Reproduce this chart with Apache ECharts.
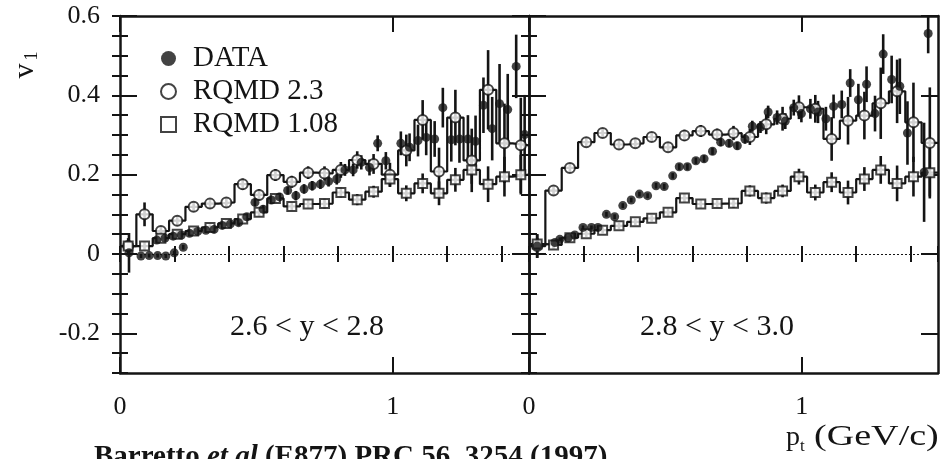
<!DOCTYPE html>
<html>
<head>
<meta charset="utf-8">
<script src="https://cdn.jsdelivr.net/npm/echarts@6/dist/echarts.min.js"></script>
<style>
  html, body { margin: 0; padding: 0; background: #fff; }
  #chart { width: 946px; height: 459px; }
</style>
</head>
<body>
<div id="chart"></div>
<script>
// RQMD histogram bin centres, p_t in GeV/c (bin width 0.06)
var binPt = [0.03, 0.09, 0.15, 0.21, 0.27, 0.33, 0.39, 0.45, 0.51, 0.57, 0.63, 0.69, 0.75,
  0.81, 0.87, 0.93, 0.99, 1.05, 1.11, 1.17, 1.23, 1.29, 1.35, 1.41, 1.47];
var binHalf = 0.03;

// 2.6 < y < 2.8
var leftRqmd23 = [0.02, 0.10, 0.058, 0.084, 0.119, 0.127, 0.130, 0.176, 0.149, 0.199, 0.182, 0.205, 0.203,
  0.212, 0.237, 0.227, 0.200, 0.261, 0.338, 0.208, 0.344, 0.236, 0.414, 0.279, 0.274];
var leftRqmd23Err = [0.02, 0.03, 0.012, 0.012, 0.012, 0.012, 0.012, 0.014, 0.014, 0.015, 0.015, 0.016, 0.018,
  0.02, 0.022, 0.025, 0.03, 0.04, 0.05, 0.06, 0.07, 0.08, 0.1, 0.1, 0.12];
var leftRqmd108 = [0.02, 0.020, 0.040, 0.050, 0.058, 0.067, 0.077, 0.088, 0.105, 0.140, 0.120, 0.126, 0.127,
  0.155, 0.137, 0.157, 0.189, 0.153, 0.178, 0.153, 0.187, 0.212, 0.176, 0.195, 0.200];
var leftRqmd108Err = [0.015, 0.01, 0.008, 0.008, 0.008, 0.008, 0.008, 0.008, 0.01, 0.01, 0.01, 0.01, 0.012,
  0.012, 0.014, 0.015, 0.02, 0.02, 0.025, 0.03, 0.03, 0.035, 0.045, 0.05, 0.05];
var leftDataPt = [0.033, 0.077, 0.107, 0.138, 0.168, 0.199, 0.232,
  0.135, 0.165, 0.195, 0.225, 0.255, 0.285, 0.315, 0.345, 0.375, 0.405,
  0.435, 0.465, 0.495, 0.525, 0.555, 0.585, 0.615, 0.645, 0.675, 0.705,
  0.735, 0.765, 0.795, 0.825, 0.855, 0.885, 0.915, 0.945, 0.975,
  1.03, 1.062, 1.093, 1.123, 1.154, 1.184, 1.215, 1.245, 1.276, 1.304,
  1.333, 1.365, 1.392, 1.422, 1.453, 1.484];
var leftDataV = [0.003, -0.005, -0.004, -0.004, -0.005, 0.003, 0.017,
  0.035, 0.040, 0.045, 0.048, 0.052, 0.057, 0.060, 0.062, 0.072, 0.076,
  0.079, 0.094, 0.130, 0.113, 0.136, 0.144, 0.160, 0.147, 0.164, 0.172,
  0.176, 0.183, 0.189, 0.212, 0.212, 0.231, 0.218, 0.279, 0.235,
  0.279, 0.269, 0.286, 0.294, 0.290, 0.369, 0.288, 0.290, 0.290, 0.284,
  0.375, 0.316, 0.379, 0.364, 0.473, 0.301];
var leftDataErr = [0.05, 0.005, 0.005, 0.005, 0.005, 0.005, 0.006,
  0.006, 0.006, 0.006, 0.006, 0.006, 0.006, 0.006, 0.007, 0.007, 0.007,
  0.008, 0.008, 0.01, 0.01, 0.01, 0.01, 0.01, 0.012, 0.012, 0.012,
  0.012, 0.013, 0.014, 0.015, 0.016, 0.018, 0.02, 0.02, 0.022,
  0.03, 0.035, 0.04, 0.045, 0.045, 0.05, 0.055, 0.06, 0.06, 0.065,
  0.07, 0.08, 0.1, 0.09, 0.08, 0.1];

// 2.8 < y < 3.0
var rightRqmd23 = [0.02, 0.16, 0.217, 0.282, 0.305, 0.276, 0.279, 0.295, 0.269, 0.299, 0.310, 0.301, 0.305,
  0.295, 0.327, 0.341, 0.370, 0.366, 0.290, 0.336, 0.349, 0.380, 0.410, 0.332, 0.280];
var rightRqmd23Err = [0.03, 0.012, 0.012, 0.012, 0.012, 0.012, 0.012, 0.012, 0.012, 0.014, 0.015, 0.015, 0.018,
  0.02, 0.025, 0.03, 0.03, 0.035, 0.055, 0.06, 0.06, 0.09, 0.08, 0.1, 0.14];
var rightRqmd108 = [0.025, 0.023, 0.041, 0.051, 0.060, 0.071, 0.081, 0.090, 0.105, 0.141, 0.126, 0.127, 0.128,
  0.159, 0.141, 0.159, 0.195, 0.155, 0.181, 0.155, 0.189, 0.212, 0.178, 0.195, 0.205];
var rightRqmd108Err = [0.015, 0.01, 0.008, 0.008, 0.008, 0.008, 0.008, 0.008, 0.01, 0.01, 0.01, 0.01, 0.012,
  0.014, 0.014, 0.016, 0.02, 0.02, 0.025, 0.03, 0.03, 0.035, 0.045, 0.05, 0.06];
var rightDataPt = [0.03, 0.095, 0.113, 0.144, 0.168, 0.198, 0.229, 0.253, 0.284, 0.314,
  0.344, 0.375, 0.405, 0.435, 0.466, 0.496, 0.527, 0.551, 0.581, 0.612,
  0.642, 0.673, 0.703, 0.734, 0.764, 0.792, 0.819, 0.849, 0.877, 0.91,
  0.94, 0.971, 0.999, 1.032, 1.06, 1.089, 1.117, 1.147, 1.178, 1.208,
  1.238, 1.269, 1.299, 1.33, 1.36, 1.388, 1.449, 1.464];
var rightDataV = [0.02, 0.029, 0.037, 0.041, 0.048, 0.067, 0.067, 0.067, 0.10, 0.094,
  0.122, 0.136, 0.151, 0.147, 0.172, 0.17, 0.197, 0.22, 0.22, 0.235,
  0.24, 0.259, 0.282, 0.279, 0.273, 0.29, 0.322, 0.32, 0.358, 0.344,
  0.335, 0.369, 0.354, 0.366, 0.358, 0.341, 0.372, 0.377, 0.431, 0.389,
  0.428, 0.354, 0.504, 0.44, 0.423, 0.305, 0.206, 0.556];
var rightDataErr = [0.03, 0.005, 0.005, 0.005, 0.005, 0.005, 0.005, 0.005, 0.006, 0.006,
  0.006, 0.006, 0.006, 0.006, 0.007, 0.007, 0.007, 0.008, 0.008, 0.008,
  0.009, 0.009, 0.01, 0.01, 0.01, 0.012, 0.014, 0.015, 0.016, 0.018,
  0.02, 0.02, 0.022, 0.025, 0.028, 0.03, 0.03, 0.035, 0.035, 0.04,
  0.045, 0.045, 0.05, 0.06, 0.07, 0.08, 0.125, 0.05];

// tick positions
var xMajorTicks = [0, 1];
var yMajorTicks = [-0.2, 0, 0.2, 0.4, 0.6];

var INK = '#141414';
var FONT = 'Liberation Serif';

var chart = echarts.init(document.getElementById('chart'));

// one grid = 4 x axes (bottom/top, long/short ticks) + 4 y axes
function makeXAxes(g) {
  var list = [];
  ['bottom', 'top'].forEach(function (pos) {
    list.push({
      gridIndex: g, type: 'value', position: pos, min: 0, max: 1.5,
      splitLine: {show: false},
      axisLine: {show: true, onZero: false, lineStyle: {color: INK, width: 2.5}},
      axisTick: {show: true, inside: true, length: 16, customValues: xMajorTicks, lineStyle: {color: INK, width: 2}},
      axisLabel: {show: pos === 'bottom', customValues: xMajorTicks, margin: 21,
        fontFamily: FONT, fontSize: 26, color: INK}
    });
    list.push({
      gridIndex: g, type: 'value', position: pos, min: 0, max: 1.5, interval: 0.2,
      splitLine: {show: false}, axisLine: {show: false},
      axisTick: {show: true, inside: true, length: 8, lineStyle: {color: INK, width: 2}},
      axisLabel: {show: false}
    });
  });
  return list;
}

function makeYAxes(g) {
  var list = [];
  ['left', 'right'].forEach(function (pos) {
    list.push({
      gridIndex: g, type: 'value', position: pos, min: -0.3, max: 0.6,
      splitLine: {show: false},
      axisLine: {show: true, onZero: false, lineStyle: {color: INK, width: 2.5}},
      axisTick: {show: true, inside: true, length: 17, customValues: yMajorTicks, lineStyle: {color: INK, width: 2}},
      axisLabel: {show: g === 0 && pos === 'left', customValues: yMajorTicks, margin: 20,
        fontFamily: FONT, fontSize: 26, color: INK}
    });
    list.push({
      gridIndex: g, type: 'value', position: pos, min: -0.3, max: 0.6, interval: 0.05,
      splitLine: {show: false}, axisLine: {show: false},
      axisTick: {show: true, inside: true, length: 8, lineStyle: {color: INK, width: 2}},
      axisLabel: {show: false}
    });
  });
  return list;
}

// histogram outline from bin centres
function stepPoints(vals) {
  var pts = binPt.map(function (c, i) { return [c - binHalf, vals[i]]; });
  pts.push([binPt[binPt.length - 1] + binHalf, vals[vals.length - 1]]);
  return pts;
}

function zip(xs, vs, es) {
  return xs.map(function (x, i) { return es ? [x, vs[i], es[i]] : [x, vs[i]]; });
}

function errorBars(g, xs, vs, es, w) {
  return {
    type: 'custom', xAxisIndex: g * 4, yAxisIndex: g * 4, silent: true, clip: true, z: 3,
    data: zip(xs, vs, es),
    encode: {x: 0, y: 1},
    renderItem: function (params, api) {
      var x = api.value(0), v = api.value(1), e = api.value(2);
      var lo = api.coord([x, v - e]), hi = api.coord([x, v + e]);
      return {
        type: 'line',
        shape: {x1: lo[0], y1: lo[1], x2: hi[0], y2: hi[1]},
        style: {stroke: INK, lineWidth: w}
      };
    }
  };
}

function panelSeries(g, r23, r23e, r108, r108e, dPt, dV, dE) {
  var ax = {xAxisIndex: g * 4, yAxisIndex: g * 4};
  return [
    Object.assign({
      type: 'line', step: 'end', showSymbol: false, silent: true, z: 2,
      data: stepPoints(r23), lineStyle: {color: INK, width: 2.2},
      markLine: {
        silent: true, symbol: 'none', label: {show: false}, animation: false,
        lineStyle: {color: INK, width: 1.2, type: [2, 2]},
        data: [{yAxis: 0}]
      }
    }, ax),
    Object.assign({
      type: 'line', step: 'end', showSymbol: false, silent: true, z: 2,
      data: stepPoints(r108), lineStyle: {color: INK, width: 2.2}
    }, ax),
    errorBars(g, binPt, r23, r23e, 2.6),
    errorBars(g, binPt, r108, r108e, 2.6),
    errorBars(g, dPt, dV, dE, 2.6),
    Object.assign({
      name: 'RQMD 2.3', type: 'scatter', symbol: 'circle', symbolSize: 10, z: 4,
      itemStyle: {color: '#fff', borderColor: INK, borderWidth: 2},
      data: zip(binPt, r23)
    }, ax),
    Object.assign({
      name: 'RQMD 1.08', type: 'scatter', symbol: 'rect', symbolSize: 9, z: 4,
      itemStyle: {color: '#fff', borderColor: INK, borderWidth: 2},
      data: zip(binPt, r108)
    }, ax),
    Object.assign({
      name: 'DATA', type: 'scatter', symbol: 'circle', symbolSize: 9, z: 5,
      itemStyle: {color: INK},
      data: zip(dPt, dV)
    }, ax)
  ];
}

var option = {
  animation: false,
  backgroundColor: '#fff',
  grid: [
    {left: 120, top: 16, width: 409, height: 357},
    {left: 529, top: 16, width: 409, height: 357}
  ],
  xAxis: makeXAxes(0).concat(makeXAxes(1)),
  yAxis: makeYAxes(0).concat(makeYAxes(1)),
  legend: {
    left: 155, top: 39, orient: 'vertical', selectedMode: false,
    itemWidth: 15, itemHeight: 15, itemGap: 4,
    data: ['DATA', 'RQMD 2.3', 'RQMD 1.08'],
    textStyle: {fontFamily: FONT, fontSize: 29, color: INK, lineHeight: 28, padding: [0, 0, 0, 12]}
  },
  series: panelSeries(0, leftRqmd23, leftRqmd23Err, leftRqmd108, leftRqmd108Err, leftDataPt, leftDataV, leftDataErr)
    .concat(panelSeries(1, rightRqmd23, rightRqmd23Err, rightRqmd108, rightRqmd108Err, rightDataPt, rightDataV, rightDataErr)),
  graphic: [
    {type: 'text', x: 307, y: 327, style: {text: '2.6 < y < 2.8', fontFamily: FONT, fontSize: 30, fill: INK, align: 'center', verticalAlign: 'middle'}},
    {type: 'text', x: 717, y: 327, style: {text: '2.8 < y < 3.0', fontFamily: FONT, fontSize: 30, fill: INK, align: 'center', verticalAlign: 'middle'}},
    // y axis title v_1
    {type: 'text', x: 25, y: 71, rotation: Math.PI / 2, style: {text: 'v', fontFamily: FONT, fontSize: 30, fill: INK, align: 'center', verticalAlign: 'middle'}},
    {type: 'text', x: 32, y: 56, rotation: Math.PI / 2, style: {text: '1', fontFamily: FONT, fontSize: 19, fill: INK, align: 'center', verticalAlign: 'middle'}},
    // x axis title p_t (GeV/c), the scan is a little stretched sideways
    {type: 'text', x: 786, y: 438, style: {text: 'p', fontFamily: FONT, fontSize: 28, fill: INK, align: 'left', verticalAlign: 'middle'}},
    {type: 'text', x: 800, y: 447, style: {text: 't', fontFamily: FONT, fontSize: 17, fill: INK, align: 'left', verticalAlign: 'middle'}},
    {type: 'text', x: 814, y: 437, scaleX: 1.27, style: {text: '(GeV/c)', fontFamily: FONT, fontSize: 30, fill: INK, align: 'left', verticalAlign: 'middle'}},
    // reference line, cut by the page edge
    {type: 'text', x: 94, y: 443, style: {
      text: '{b|Barretto }{i|et al}{b| (E877) PRC 56, 3254 (1997)}', verticalAlign: 'top',
      rich: {
        b: {fontFamily: FONT, fontSize: 29, fontWeight: 'bold', fill: INK},
        i: {fontFamily: FONT, fontSize: 29, fontWeight: 'bold', fontStyle: 'italic', fill: INK}
      }
    }}
  ]
};

chart.setOption(option);
</script>
</body>
</html>
